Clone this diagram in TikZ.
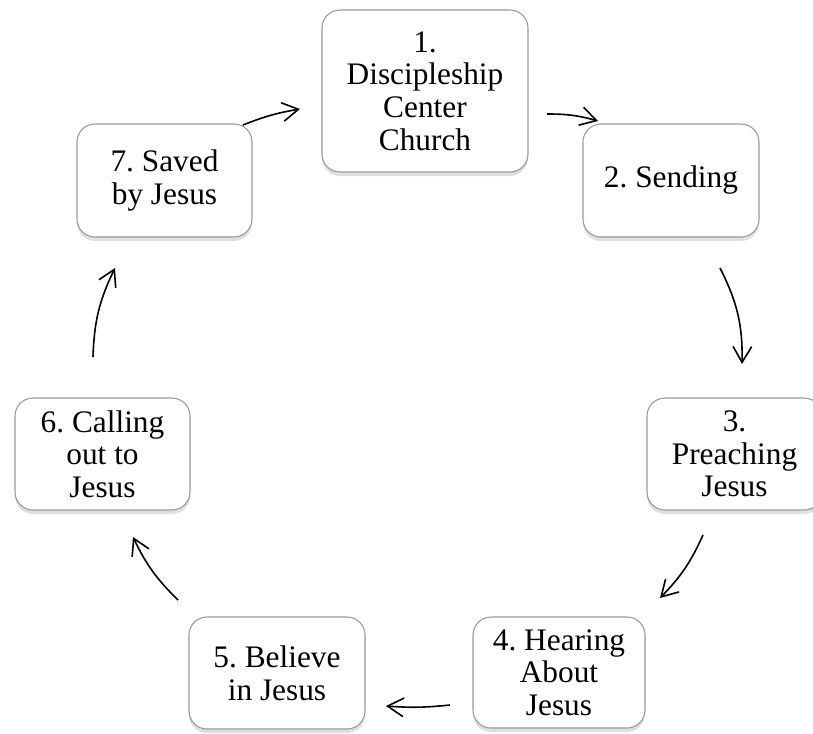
\documentclass[tikz,border=0pt]{standalone}
\usepackage{fontspec}
\setmainfont{Liberation Serif}
\usetikzlibrary{arrows.meta,shadows}
\frenchspacing
\begin{document}
\begin{tikzpicture}[x=0.75pt,y=0.75pt,
  stage/.style={draw=black!40, line width=0.8pt, fill=white, rounded corners=13.5pt, align=center, inner sep=0pt,
    font=\fontsize{23.5}{24.5}\selectfont,
    drop shadow={shadow xshift=0pt, shadow yshift=-3pt, opacity=0.25}},
  link/.style={-{Straight Barb[length=12pt,width=14pt]}, line width=1.2pt}]
\useasboundingbox (0,0) rectangle (813,-733);
\node[stage, minimum width=154.5pt, minimum height=121.5pt] (s1) at (425,-91) {1.\\Discipleship\\Center\\Church};
\node[stage, minimum width=132pt, minimum height=84.75pt] (s2) at (671,-180.5) {2. Sending};
\node[stage, minimum width=131.25pt, minimum height=84pt] (s3) at (734.5,-454) {3.\\Preaching\\Jesus};
\node[stage, minimum width=129pt, minimum height=83.25pt] (s4) at (559,-672.5) {4. Hearing\\About\\Jesus};
\node[stage, minimum width=132pt, minimum height=84pt] (s5) at (277,-673) {5. Believe\\in Jesus};
\node[stage, minimum width=131.25pt, minimum height=84pt] (s6) at (102.5,-454) {6. Calling\\out to\\Jesus};
\node[stage, minimum width=131.25pt, minimum height=84.75pt] (s7) at (164.5,-180.5) {7. Saved\\by Jesus};
\coordinate (a12s) at (547,-114); \coordinate (a12e) at (598,-121);
\coordinate (a23s) at (720,-268); \coordinate (a23e) at (742,-364);
\coordinate (a34s) at (703,-535); \coordinate (a34e) at (660,-598);
\coordinate (a45s) at (450,-705); \coordinate (a45e) at (386,-706);
\coordinate (a56s) at (178,-600); \coordinate (a56e) at (133,-537);
\coordinate (a67s) at (93,-357);  \coordinate (a67e) at (115,-268);
\coordinate (a71s) at (243,-125); \coordinate (a71e) at (300,-109);
\draw[link] (a12s) to[bend left=8] (a12e);
\draw[link] (a23s) to[bend left=14] (a23e);
\draw[link] (a34s) to[bend left=10] (a34e);
\draw[link] (a45s) to[bend left=5] (a45e);
\draw[link] (a56s) to[bend left=10] (a56e);
\draw[link] (a67s) to[bend left=12] (a67e);
\draw[link] (a71s) to[bend left=6] (a71e);
\end{tikzpicture}
\end{document}
